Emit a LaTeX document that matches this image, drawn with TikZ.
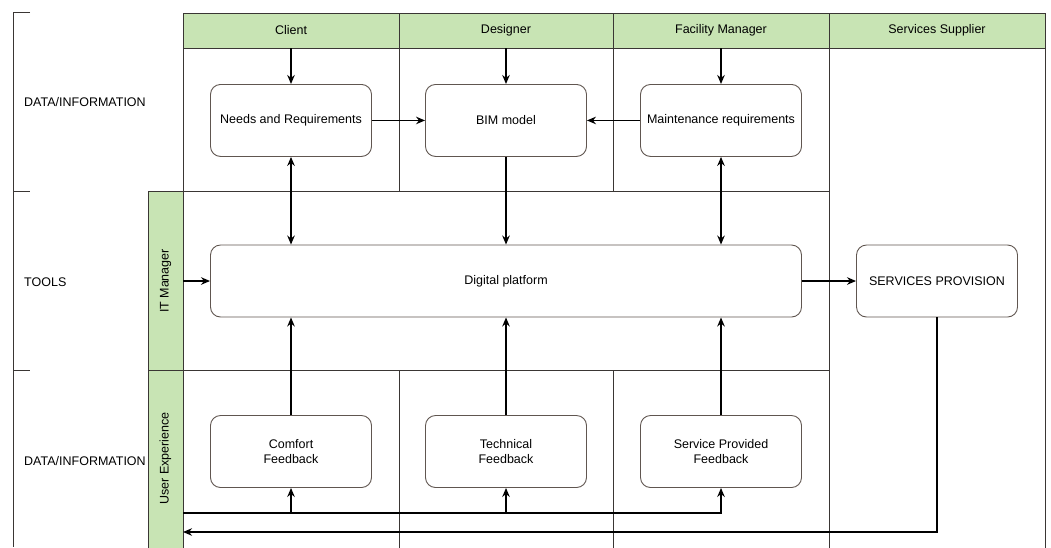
\documentclass[tikz,border=0pt]{standalone}
\usepackage{fontspec}
\setmainfont{Liberation Sans}
\usetikzlibrary{positioning,arrows.meta}
\definecolor{lanegreen}{RGB}{200,228,180}
\definecolor{laneline}{RGB}{58,54,52}
\definecolor{boxline}{RGB}{96,86,80}

\begin{document}
\begin{tikzpicture}[
        x=1pt, y=-1pt,
        >={Stealth[length=9pt,width=7.5pt]},
        font=\fontsize{12.5}{15}\selectfont,
        lane/.style={draw=laneline, line width=0.9pt, inner sep=0pt, outer sep=0pt},
        head/.style={lane, fill=lanegreen},
        box/.style={draw=boxline, fill=white, line width=0.9pt, rounded corners=10pt, align=center,
                    minimum width=161pt, minimum height=72pt, inner sep=2pt},
        rowtag/.style={anchor=west, inner sep=0pt},
        flow/.style={line width=1.5pt}
      ]
      \useasboundingbox (0,0) rectangle (1051,547);
      \clip (0,0) rectangle (1051,547);

      % swimlane headers
      \node (hc) [head, minimum width=216pt, minimum height=35pt] at (291,30.5) {Client};
      \node (hd) [head, minimum width=214pt, minimum height=35pt, right=0pt of hc] {Designer};
      \node (hf) [head, minimum width=216pt, minimum height=35pt, right=0pt of hd] {Facility Manager};
      \node (hs) [head, minimum width=216pt, minimum height=35pt, right=0pt of hf] {Services Supplier};

      % lanes
      \node (tc) [lane, minimum width=216pt, minimum height=143pt, below=0pt of hc] {};
      \node (td) [lane, minimum width=214pt, minimum height=143pt, below=0pt of hd] {};
      \node (tf) [lane, minimum width=216pt, minimum height=143pt, below=0pt of hf] {};
      \node (ss) [lane, minimum width=216pt, minimum height=520pt, below=0pt of hs] {};
      \node (mid) [lane, minimum width=646pt, minimum height=179pt, anchor=north west] at (183,191.5) {};
      \node (itm) [head, rotate=90, minimum width=179pt, minimum height=35pt] at (165.5,281) {IT Manager};
      \node (bc) [lane, minimum width=216pt, minimum height=190pt, anchor=north west] at (183,370.5) {};
      \node (bd) [lane, minimum width=214pt, minimum height=190pt, right=0pt of bc] {};
      \node (bf) [lane, minimum width=216pt, minimum height=190pt, right=0pt of bd] {};
      \node (ux) [head, rotate=90, minimum width=190pt, minimum height=35pt, anchor=south east] at (183,370.5) {};
      \node at (165.5,458.5) [rotate=90] {User Experience};

      % row bracket
      \draw[lane] (30,12) -- (13,12) -- (13,547);
      \draw[lane] (13,191.5) -- (30,191.5);
      \draw[lane] (13,370.5) -- (30,370.5);
      \node (r1) [rowtag] at (24,102) {DATA/INFORMATION};
      \node (r2) [rowtag] at (24,282) {TOOLS};
      \node (r3) [rowtag] at (24,461) {DATA/INFORMATION};

      % activities
      \coordinate (fbrow) at (0,451.5);
      \node (nr) [box, below=36pt of hc] {Needs and Requirements};
      \node (bim) [box, below=36pt of hd] {BIM model};
      \node (mr) [box, below=36pt of hf] {Maintenance requirements};
      \node (dp) [box, minimum width=591pt] at (hd |- 0,281) {Digital platform};
      \node (sp) [box] at (hs |- dp) {SERVICES PROVISION};
      \node (cf) [box] at (hc |- fbrow) {Comfort\\Feedback};
      \node (tfb) [box] at (hd |- fbrow) {Technical\\Feedback};
      \node (spf) [box] at (hf |- fbrow) {Service Provided\\Feedback};

      \coordinate (bus) at (183,513);
      \coordinate (ret) at (183,532);

      \path[->, flow] (hc) edge (nr);
      \path[->, flow] (hd) edge (bim);
      \path[->, flow] (hf) edge (mr);
      \path[->, flow] (nr) edge (bim);
      \path[->, flow] (mr) edge (bim);
      \path[->, flow] (bim) edge (dp);
      \draw[<->, flow] (nr) -- (nr |- dp.north);
      \draw[<->, flow] (mr) -- (mr |- dp.north);
      \path[->, flow] (itm) edge (dp);
      \path[->, flow] (dp) edge (sp);
      \draw[->, flow] (cf) -- (cf |- dp.south);
      \path[->, flow] (tfb) edge (dp);
      \draw[->, flow] (spf) -- (spf |- dp.south);
      \draw[->, flow] (bus) -| (spf);
      \draw[->, flow] (bus -| cf) -- (cf);
      \draw[->, flow] (bus -| tfb) -- (tfb);
      \draw[->, flow] (sp) |- (ret);

    \end{tikzpicture}
\end{document}
